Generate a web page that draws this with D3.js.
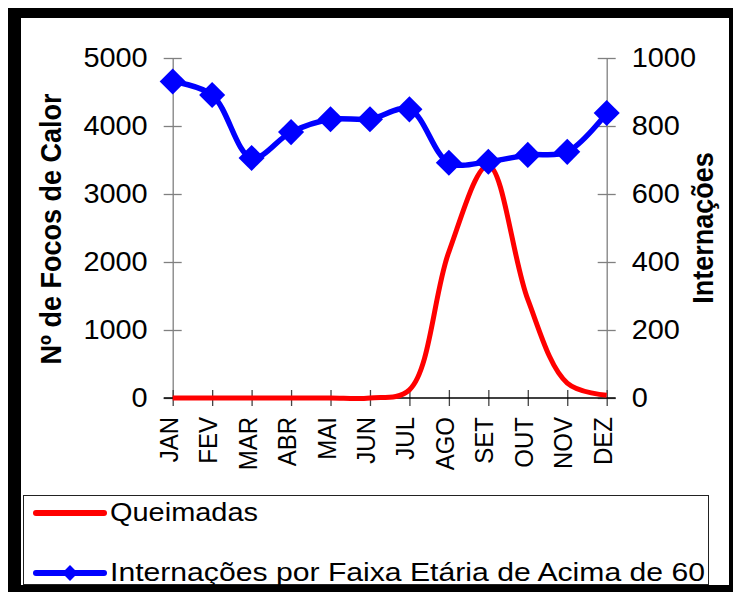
<!DOCTYPE html>
<html>
<head>
<meta charset="utf-8">
<script src="https://cdn.jsdelivr.net/npm/d3@7"></script>
<style>
body { margin: 0; background: #fff; }
svg { display: block; }
text { font-family: "Liberation Sans", Arial, sans-serif; fill: #000; }
</style>
</head>
<body>
<div id="chart"></div>
<script>
// data
const months = ["JAN","FEV","MAR","ABR","MAI","JUN","JUL","AGO","SET","OUT","NOV","DEZ"];
const queimadas = [0, 0, 0, 0, 0, 0, 120, 2150, 3420, 1450, 220, 40];
const internacoes = [931, 891, 706, 782, 820, 820, 849, 692, 695, 715, 724, 838];
const leftTicks = [0, 1000, 2000, 3000, 4000, 5000];
const rightTicks = [0, 200, 400, 600, 800, 1000];
const legendLabels = ["Queimadas", "Internações por Faixa Etária de Acima de 60"];

const width = 733, height = 592;
const plot = {left: 172.7, right: 606.7, top: 58, bottom: 398};

const svg = d3.select("#chart").append("svg")
    .attr("width", width)
    .attr("height", height);

// black frame
svg.append("rect").attr("x", 8).attr("y", 8).attr("width", width - 8).attr("height", height - 8).attr("fill", "#000");
svg.append("rect").attr("x", 21).attr("y", 18).attr("width", 708).attr("height", 567).attr("fill", "#fff");

const x = d3.scalePoint().domain(months).range([plot.left, plot.right]);
const yLeft = d3.scaleLinear().domain([0, 5000]).range([plot.bottom, plot.top]);
const yRight = d3.scaleLinear().domain([0, 1000]).range([plot.bottom, plot.top]);

// stretch horizontal text a little, the source picture is wider than tall
const stretch = function(sel, k) {
  sel.each(function() {
    const w = this.getComputedTextLength();
    d3.select(this).attr("textLength", w * k).attr("lengthAdjust", "spacingAndGlyphs");
  });
};

// left axis
const gl = svg.append("g")
    .attr("transform", `translate(${plot.left},0)`)
    .call(d3.axisLeft(yLeft).tickValues(leftTicks).tickFormat(d3.format("d")).tickSize(9).tickSizeOuter(0).tickPadding(16));
gl.selectAll(".tick line").attr("x1", 9);
gl.selectAll("line, path").attr("stroke", "#808080").attr("stroke-width", 1.3);
gl.selectAll("text").attr("font-size", 27).attr("font-family", "Liberation Sans, Arial").call(stretch, 1.07);

// right axis
const gr = svg.append("g")
    .attr("transform", `translate(${plot.right},0)`)
    .call(d3.axisRight(yRight).tickValues(rightTicks).tickFormat(d3.format("d")).tickSize(9).tickSizeOuter(0).tickPadding(16));
gr.selectAll(".tick line").attr("x1", -9);
gr.selectAll("line, path").attr("stroke", "#808080").attr("stroke-width", 1.3);
gr.selectAll("text").attr("font-size", 27).attr("font-family", "Liberation Sans, Arial").call(stretch, 1.07);

// bottom axis
const gx = svg.append("g")
    .attr("transform", `translate(0,${plot.bottom})`)
    .call(d3.axisBottom(x).tickSize(8).tickSizeOuter(0));
gx.select(".domain").remove();
gx.selectAll(".tick line").attr("y1", -8).attr("stroke", "#444").attr("stroke-width", 1.3);
gx.selectAll("text")
    .attr("transform", "rotate(-90) scale(1,1.1)")
    .attr("x", -19)
    .attr("y", 0)
    .attr("dy", "0.17em")
    .attr("text-anchor", "end")
    .attr("font-size", 24)
    .attr("font-family", "Liberation Sans, Arial");
gx.append("line")
    .attr("x1", plot.left - 9).attr("x2", plot.right + 9)
    .attr("stroke", "#000").attr("stroke-width", 1.3);

// axis titles
svg.append("text")
    .attr("transform", `translate(61,229) rotate(-90) scale(1,1.07)`)
    .attr("text-anchor", "middle")
    .attr("font-size", 27).attr("font-weight", "bold")
    .text("Nº de Focos de Calor");
svg.append("text")
    .attr("transform", `translate(713,228) rotate(-90) scale(1,1.07)`)
    .attr("text-anchor", "middle")
    .attr("font-size", 27).attr("font-weight", "bold")
    .text("Internações");

const curve = d3.curveCatmullRom.alpha(0.5);

// Queimadas line
svg.append("path")
    .datum(queimadas)
    .attr("fill", "none")
    .attr("stroke", "#ff0000")
    .attr("stroke-width", 5)
    .attr("stroke-linejoin", "round")
    .attr("d", d3.line().x((d, i) => x(months[i])).y(d => yLeft(d)).curve(curve));

// Internações line + markers
svg.append("path")
    .datum(internacoes)
    .attr("fill", "none")
    .attr("stroke", "#0000ff")
    .attr("stroke-width", 5.5)
    .attr("stroke-linejoin", "round")
    .attr("d", d3.line().x((d, i) => x(months[i])).y(d => yRight(d)).curve(curve));

const diamond = d3.symbol().type(d3.symbolSquare).size(340);
svg.selectAll(".marker")
    .data(internacoes)
    .join("path")
    .attr("class", "marker")
    .attr("transform", (d, i) => `translate(${x(months[i])},${yRight(d)}) rotate(45)`)
    .attr("d", diamond)
    .attr("fill", "#0000ff");

// legend
svg.append("rect")
    .attr("x", 23.5).attr("y", 495.5)
    .attr("width", 685).attr("height", 89)
    .attr("fill", "none").attr("stroke", "#222").attr("stroke-width", 1);

const legend = svg.append("g");
legend.append("line")
    .attr("x1", 36).attr("x2", 104).attr("y1", 513).attr("y2", 513)
    .attr("stroke", "#ff0000").attr("stroke-width", 6).attr("stroke-linecap", "round");
legend.append("text")
    .attr("x", 110).attr("y", 521)
    .attr("font-size", 25)
    .attr("textLength", 148).attr("lengthAdjust", "spacingAndGlyphs")
    .text(legendLabels[0]);

legend.append("line")
    .attr("x1", 36).attr("x2", 104).attr("y1", 573).attr("y2", 573)
    .attr("stroke", "#0000ff").attr("stroke-width", 6).attr("stroke-linecap", "round");
legend.append("path")
    .attr("transform", "translate(70,573) rotate(45)")
    .attr("d", d3.symbol().type(d3.symbolSquare).size(125))
    .attr("fill", "#0000ff");
legend.append("text")
    .attr("x", 110).attr("y", 581)
    .attr("font-size", 25)
    .attr("textLength", 595).attr("lengthAdjust", "spacingAndGlyphs")
    .text(legendLabels[1]);
</script>
</body>
</html>
